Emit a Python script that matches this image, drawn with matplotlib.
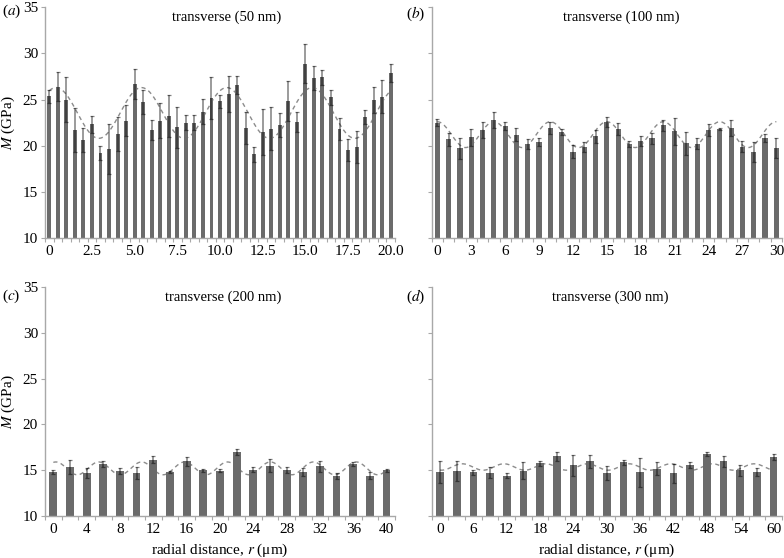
import numpy as np
import matplotlib
matplotlib.use("Agg")
import matplotlib.pyplot as plt

plt.rcParams["font.family"] = ["Liberation Serif", "DejaVu Serif"]
plt.rcParams["mathtext.fontset"] = "stix"

# (a) transverse 50 nm
r_50 = np.arange(0, 20.01, 0.5)
m_50 = [25.35, 26.4, 25.0, 21.7, 20.6, 22.3, 19.2, 19.6, 21.3, 22.7,
        26.7, 24.7, 21.7, 22.7, 23.2, 22.0, 22.5, 22.5, 23.7, 25.15,
        24.8, 25.6, 26.6, 21.9, 19.05, 21.5, 21.85, 22.2, 24.85, 22.6,
        28.9, 27.3, 27.4, 25.25, 21.8, 19.5, 19.85, 23.1, 24.95, 25.3, 27.9]
err_50 = [0.7, 1.6, 2.4, 2.4, 1.3, 0.9, 0.75, 2.7, 1.85, 1.7,
          1.6, 1.3, 1.05, 1.9, 2.3, 2.2, 0.8, 0.8, 1.4, 2.3,
          0.7, 2.0, 1.0, 1.7, 0.85, 2.5, 2.3, 1.3, 2.2, 1.1,
          2.1, 1.3, 0.85, 0.8, 1.15, 1.2, 1.7, 0.8, 1.4, 1.8, 1.0]
ticks_50 = [0, 2.5, 5, 7.5, 10, 12.5, 15, 17.5, 20]
labels_50 = ["0", "2.5", "5.0", "7.5", "10.0", "12.5", "15.0", "17.5", "20.0"]
fit_50 = (23.55, 2.75, 5.0, 0.4)  # mean, amplitude, period, peak

# (b) transverse 100 nm
r_100 = np.arange(0, 31, 1)
m_100 = [22.5, 20.7, 19.7, 20.9, 21.7, 22.8, 22.1, 21.2, 20.2, 20.4,
         21.9, 21.5, 19.35, 19.9, 21.0, 22.6, 21.8, 20.2, 20.55, 20.8,
         22.2, 21.55, 20.25, 20.2, 21.7, 21.8, 21.9, 19.9, 19.35, 20.8, 19.75]
err_100 = [0.4, 0.7, 1.1, 0.95, 0.9, 0.85, 0.45, 0.7, 0.55, 0.45,
           0.65, 0.3, 0.7, 0.55, 0.7, 0.55, 0.65, 0.35, 0.55, 0.6,
           0.6, 1.5, 1.25, 0.6, 0.65, 0.15, 0.9, 0.6, 1.1, 0.45, 1.1]
ticks_100 = [0, 3, 6, 9, 12, 15, 18, 21, 24, 27, 30]
labels_100 = [str(t) for t in ticks_100]
fit_100 = (21.2, 1.4, 5.0, 0.0)

# (c) transverse 200 nm
r_200 = np.arange(0, 41, 2)
m_200 = [14.8, 15.35, 14.65, 15.7, 14.9, 14.7, 16.15, 14.8, 15.95, 15.0,
         14.95, 17.0, 15.05, 15.5, 15.0, 14.8, 15.45, 14.35, 15.65, 14.4, 15.0]
err_200 = [0.2, 0.8, 0.55, 0.35, 0.35, 0.7, 0.35, 0.15, 0.5, 0.15,
           0.2, 0.35, 0.3, 0.75, 0.3, 0.45, 0.6, 0.3, 0.2, 0.35, 0.15]
ticks_200 = list(range(0, 41, 4))
labels_200 = [str(t) for t in ticks_200]
fit_200 = (15.2, 0.7, 5.15, 0.3)

# (d) transverse 300 nm
r_300 = np.arange(0, 61, 3)
m_300 = [14.8, 14.9, 14.75, 14.7, 14.4, 14.95, 15.75, 16.5, 15.55, 15.95,
         14.7, 15.85, 14.75, 15.15, 14.65, 15.55, 16.75, 16.0, 15.0, 14.8, 16.45]
err_300 = [1.2, 1.1, 0.3, 0.6, 0.25, 0.95, 0.3, 0.5, 1.15, 0.75,
           0.8, 0.25, 1.6, 0.7, 1.05, 0.3, 0.25, 0.6, 0.6, 0.45, 0.35]
ticks_300 = list(range(0, 61, 6))
labels_300 = [str(t) for t in ticks_300]
fit_300 = (15.35, 0.35, 7.5, 4.0)

BAR = "#6b6b6b"
AXIS = "#a8a8a8"


def draw_panel(ax, r, m, err, fit, ticks, labels, title, title_x, ylabels):
    step = r[1] - r[0]
    ax.bar(r, m, width=step * 0.46, color=BAR, zorder=2)
    ax.errorbar(r, m, yerr=err, fmt="none", ecolor="black", alpha=0.5,
                elinewidth=1.1, capsize=1.6, capthick=0.9, zorder=3)
    mean, amp, period, peak = fit
    xs = np.linspace(r[0], r[-1], 500)
    ax.plot(xs, mean + amp * np.cos(2 * np.pi * (xs - peak) / period),
            ls=(0, (3, 2.5)), color="#8c8c8c", lw=1.0, zorder=1)

    ax.set_xlim(r[0] - step / 2, r[-1] + step / 2)
    ax.set_ylim(10, 35)
    ax.set_xticks(ticks)
    ax.set_xticklabels(labels)
    ax.set_xticks(np.arange(r[0] - step / 2, r[-1] + step, step), minor=True)
    ax.tick_params(axis="x", which="major", length=0, pad=5, labelsize=11)
    ax.tick_params(axis="x", which="minor", length=3, color=AXIS, width=0.8)
    ax.set_yticks(range(10, 36, 5))
    ax.tick_params(axis="y", length=3, color=AXIS, width=0.8, labelsize=11,
                   labelleft=ylabels, pad=2)
    for side in ("top", "right"):
        ax.spines[side].set_visible(False)
    for side in ("left", "bottom"):
        ax.spines[side].set_color(AXIS)
        ax.spines[side].set_linewidth(1.0)
    ax.text(title_x, 0.985, title, transform=ax.transAxes, ha="center",
            va="top", fontsize=10.5)


fig = plt.figure(figsize=(7.84, 5.58), dpi=100)
W, H = 784, 558


def axes_px(left, right, top, bottom):
    return fig.add_axes([left / W, 1 - bottom / H, (right - left) / W, (bottom - top) / H])


ax_a = axes_px(45, 395, 7.3, 238)
ax_b = axes_px(431.7, 782, 7.3, 238)
ax_c = axes_px(45, 395, 287, 516)
ax_d = axes_px(431.7, 782, 287, 516)

draw_panel(ax_a, r_50, m_50, err_50, fit_50, ticks_50, labels_50,
           "transverse (50 nm)", 0.52, True)
draw_panel(ax_b, r_100, m_100, err_100, fit_100, ticks_100, labels_100,
           "transverse (100 nm)", 0.54, False)
draw_panel(ax_c, r_200, m_200, err_200, fit_200, ticks_200, labels_200,
           "transverse (200 nm)", 0.51, True)
draw_panel(ax_d, r_300, m_300, err_300, fit_300, ticks_300, labels_300,
           "transverse (300 nm)", 0.51, False)

for ax in (ax_a, ax_c):
    ax.set_ylabel("$M$ (GPa)", fontsize=11, labelpad=4)
for ax in (ax_c, ax_d):
    ax.set_xlabel("radial distance, $r$ (μm)", fontsize=11, labelpad=4)

for letter, x, y in (("a", 2, 3), ("b", 406, 5), ("c", 2, 288), ("d", 406, 288)):
    fig.text(x / W, 1 - y / H, "($%s$)" % letter, ha="left", va="top", fontsize=11)

fig.savefig("out.png", dpi=100)
